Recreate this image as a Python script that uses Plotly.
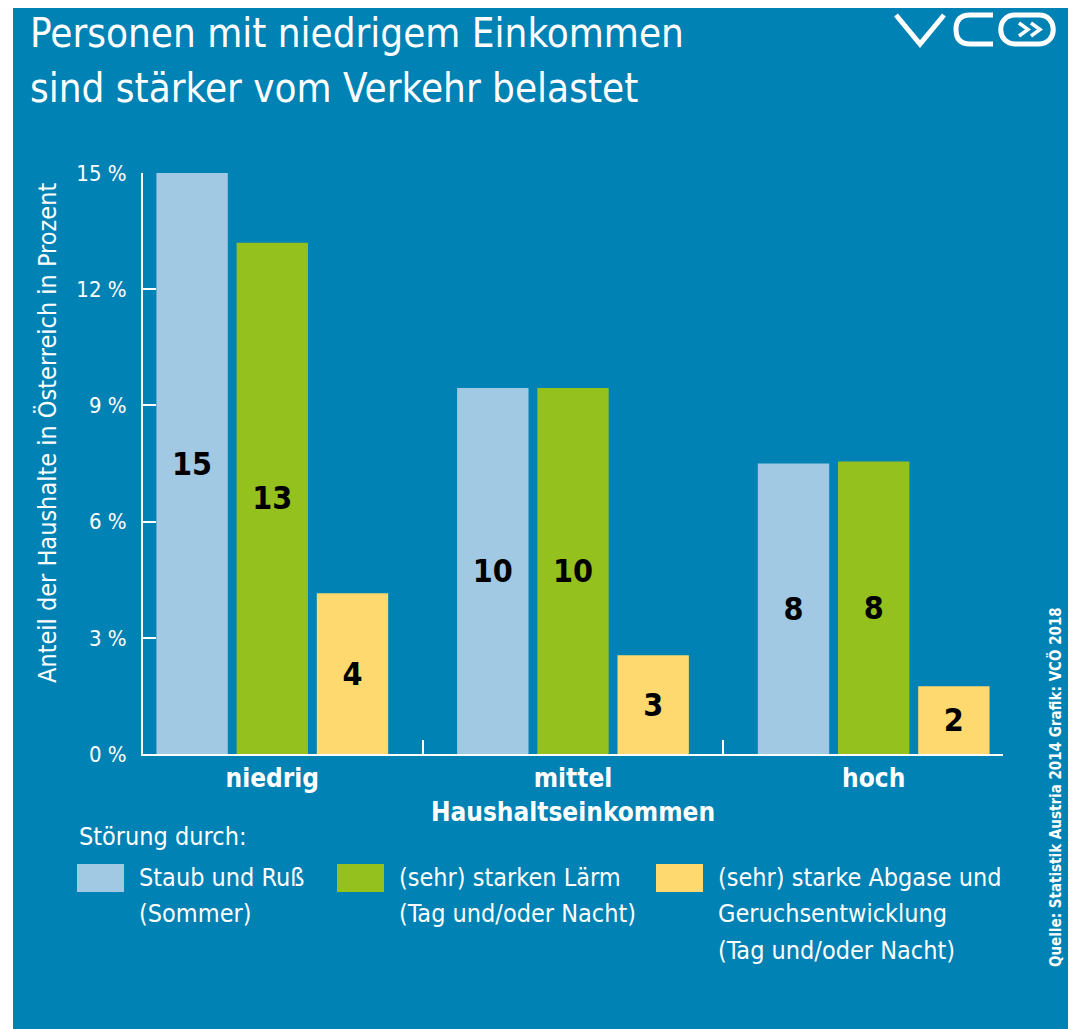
import plotly.graph_objects as go

# Daten
categories = ["niedrig", "mittel", "hoch"]
staub = [15.0, 9.45, 7.5]
laerm = [13.2, 9.45, 7.55]
abgase = [4.15, 2.55, 1.75]
staub_labels = ["15", "10", "8"]
laerm_labels = ["13", "10", "8"]
abgase_labels = ["4", "3", "2"]
y_ticks = [0, 3, 6, 9, 12, 15]

series_names = ["Staub und Ruß<br>(Sommer)",
                "(sehr) starken Lärm<br>(Tag und/oder Nacht)",
                "(sehr) starke Abgase und<br>Geruchsentwicklung<br>(Tag und/oder Nacht)"]
colors = ["#a2c9e3", "#95c11f", "#fed96f"]

BG = "#0082b4"
FONT = "DejaVu Sans Condensed, Liberation Sans Narrow, sans-serif"

# die Seite hat 8px Rand -> Figur etwas kleiner, Koordinaten in Seitenpixeln
OFF = 8
W, H = 1076 - OFF, 1029 - OFF
L, R, T, B = 143 - OFF, 73, 173 - OFF, 275


def px(x):
    return (x - OFF - L) / (W - L - R)


def py(y):
    return (H - B - (y - OFF)) / (H - T - B)


fig = go.Figure()
for vals, labels, name, col in zip([staub, laerm, abgase],
                                   [staub_labels, laerm_labels, abgase_labels],
                                   series_names, colors):
    fig.add_trace(go.Bar(
        x=categories, y=vals, name=name.replace("<br>", " "),
        text=labels, textposition="inside", insidetextanchor="middle",
        textfont=dict(family=FONT, size=32, color="black", weight="bold"),
        marker=dict(color=col, line=dict(width=0)),
        showlegend=False,
    ))

shapes = []
# weisser Rand links
shapes.append(dict(type="rect", xref="paper", yref="paper", x0=px(0), x1=px(13),
                   y0=py(1040), y1=py(-10), fillcolor="white", line=dict(width=0), layer="below"))

# Logo VCÖ
logo_line = dict(color="white", width=5)
shapes.append(dict(type="path", xref="paper", yref="paper", line=logo_line,
                   path=f"M{px(896)},{py(15)} L{px(920)},{py(44)} L{px(944)},{py(15)}"))
shapes.append(dict(type="path", xref="paper", yref="paper", line=logo_line,
                   path=(f"M{px(993)},{py(15)} L{px(970)},{py(15)} "
                         f"Q{px(956)},{py(15)} {px(956)},{py(29.5)} "
                         f"Q{px(956)},{py(44)} {px(970)},{py(44)} L{px(993)},{py(44)}")))
shapes.append(dict(type="path", xref="paper", yref="paper", line=logo_line,
                   path=(f"M{px(1015)},{py(15)} L{px(1039)},{py(15)} "
                         f"C{px(1058)},{py(15)} {px(1058)},{py(44)} {px(1039)},{py(44)} "
                         f"L{px(1015)},{py(44)} "
                         f"C{px(996)},{py(44)} {px(996)},{py(15)} {px(1015)},{py(15)} Z")))
for cx in [1019, 1031]:
    shapes.append(dict(type="path", xref="paper", yref="paper", line=dict(color="white", width=3.5),
                       path=f"M{px(cx)},{py(23)} L{px(cx + 9)},{py(29.5)} L{px(cx)},{py(36)}"))

annotations = []
# Titel
for line, yc in zip(["Personen mit niedrigem Einkommen", "sind stärker vom Verkehr belastet"], [33, 88]):
    annotations.append(dict(text=line, xref="paper", yref="paper", x=px(28), y=py(yc),
                            xanchor="left", yanchor="middle", showarrow=False,
                            font=dict(family=FONT, size=40, color="white")))

# Legende
annotations.append(dict(text="Störung durch:", xref="paper", yref="paper", x=px(77), y=py(836),
                        xanchor="left", yanchor="middle", showarrow=False,
                        font=dict(family=FONT, size=25, color="white")))
for sx, name, col in zip([77, 337, 656], series_names, colors):
    shapes.append(dict(type="rect", xref="paper", yref="paper", x0=px(sx), x1=px(sx + 47),
                       y0=py(892), y1=py(864), fillcolor=col, line=dict(width=0)))
    for i, line in enumerate(name.split("<br>")):
        annotations.append(dict(text=line, xref="paper", yref="paper", x=px(sx + 60), y=py(877 + 36.5 * i),
                                xanchor="left", yanchor="middle", align="left", showarrow=False,
                                font=dict(family=FONT, size=25, color="white")))

# Titel der y-Achse
annotations.append(dict(text="Anteil der Haushalte in Österreich in Prozent", textangle=-90,
                        xref="paper", yref="paper", x=px(47), y=py(433),
                        xanchor="center", yanchor="middle", showarrow=False,
                        font=dict(family=FONT, size=25, color="white")))
# Quelle
annotations.append(dict(text="<b>Quelle: Statistik Austria 2014 Grafik: VCÖ 2018</b>", textangle=-90,
                        xref="paper", yref="paper", x=px(1055), y=py(787),
                        xanchor="center", yanchor="middle", showarrow=False,
                        font=dict(family=FONT, size=15, color="white")))

fig.update_layout(
    width=W, height=H, autosize=False,
    margin=dict(l=L, r=R, t=T, b=B, pad=0),
    paper_bgcolor=BG, plot_bgcolor=BG,
    barmode="group", bargap=0.2, bargroupgap=0.11,
    font=dict(family=FONT, color="white"),
    shapes=shapes, annotations=annotations,
)
fig.update_xaxes(
    range=[-0.43, 2.43], showgrid=False, zeroline=False,
    showline=True, linecolor="white", linewidth=2,
    ticks="inside", tickson="boundaries", ticklen=14, tickwidth=2, tickcolor="white",
    tickfont=dict(family=FONT, size=26, color="white", weight="bold"),
    ticklabelstandoff=0,
    title=dict(text="Haushaltseinkommen", standoff=11,
               font=dict(family=FONT, size=26, color="white", weight="bold")),
)
fig.update_yaxes(
    range=[0, 15], tickvals=y_ticks, ticktext=[f"{v} %" for v in y_ticks],
    showgrid=False, zeroline=False,
    showline=True, linecolor="white", linewidth=2,
    ticks="inside", ticklen=13, tickwidth=2, tickcolor="white",
    tickfont=dict(family=FONT, size=22, color="white"),
    ticklabelstandoff=10,
)

fig.write_html("out.html")
